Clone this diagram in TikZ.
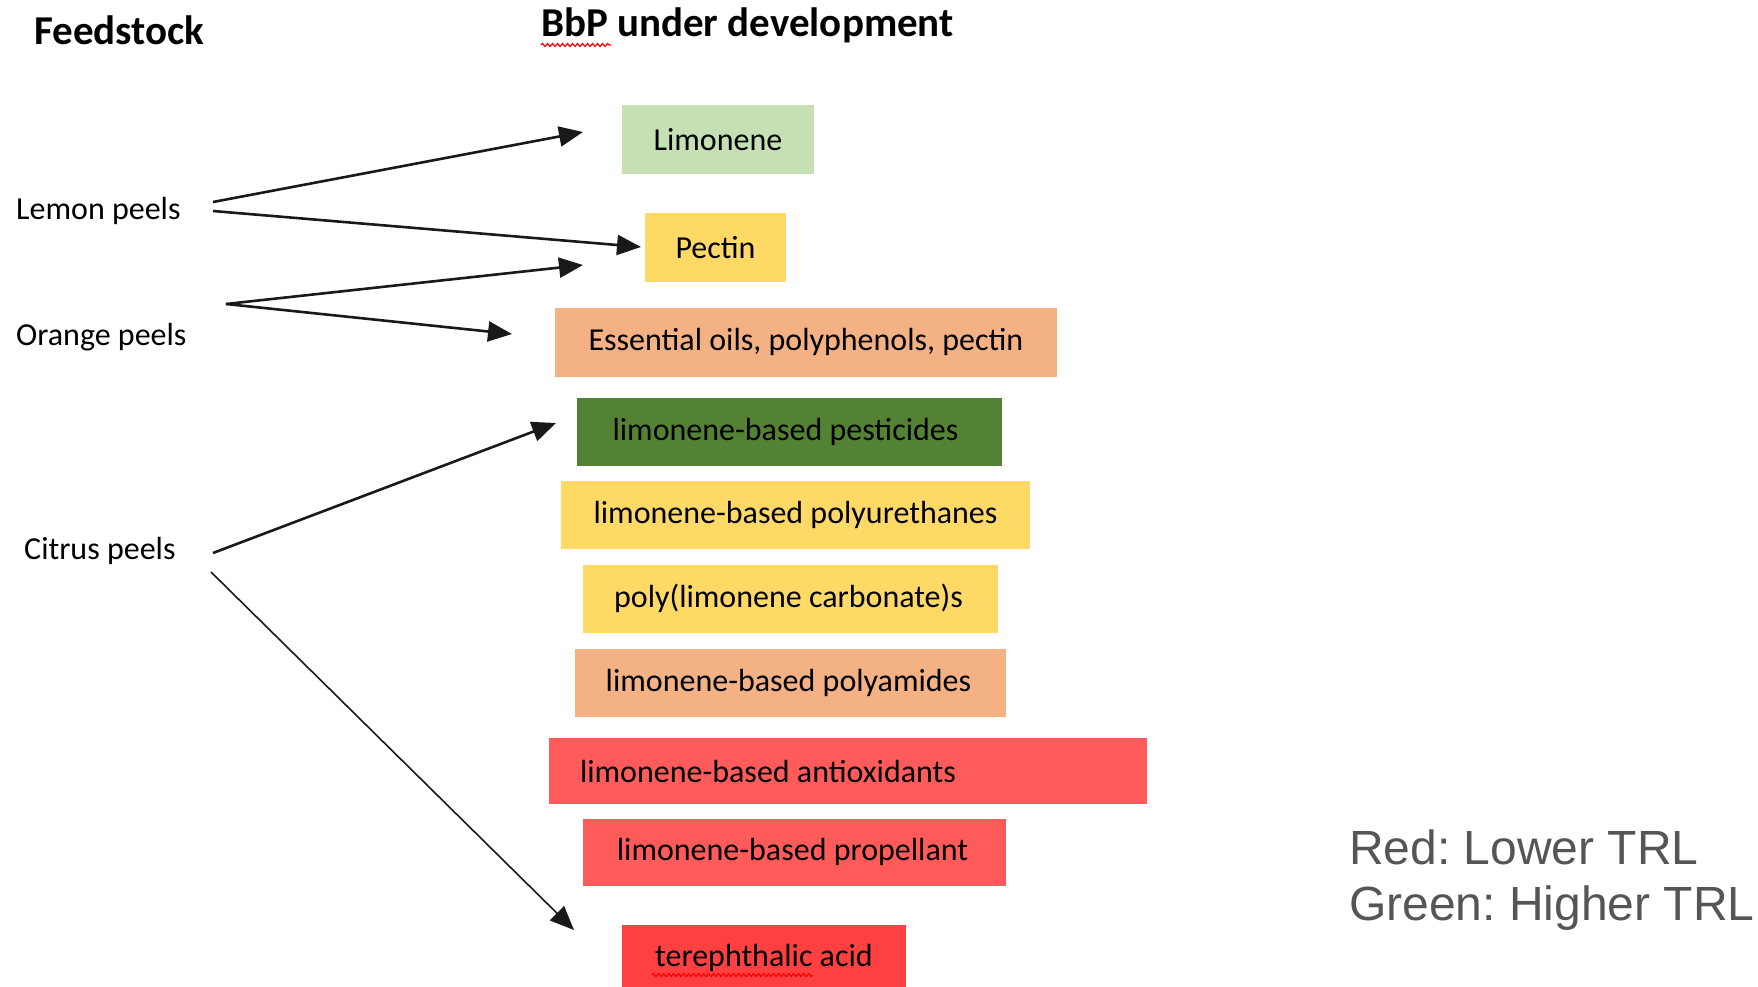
\documentclass[tikz,border=0pt]{standalone}
\usepackage{fontspec}
\setmainfont{Carlito}
\newfontfamily\arialf{Liberation Sans}
\usetikzlibrary{arrows.meta,decorations.pathmorphing}
\definecolor{cgreenl}{HTML}{C5E0B4}
\definecolor{cyel}{HTML}{FFD966}
\definecolor{corg}{HTML}{F4B183}
\definecolor{cgreen}{HTML}{548235}
\definecolor{cred}{HTML}{FF5B5B}
\definecolor{credd}{HTML}{FF4040}
\definecolor{cgray}{HTML}{555555}
\frenchspacing
\begin{document}
\begin{tikzpicture}[x=1pt,y=-1pt,
 box/.style={inner sep=0pt, minimum height=68pt, font=\fontsize{32}{38}\selectfont, text=black},
 lbl/.style={anchor=west, inner sep=0pt, font=\fontsize{32}{38}\selectfont},
 hdr/.style={anchor=west, inner sep=0pt, font=\fontsize{41}{48}\selectfont\bfseries},
 leg/.style={anchor=base west, inner sep=0pt, text=cgray, font=\fontsize{48}{56}\selectfont\arialf},
 arr/.style={-{Triangle[length=24pt,width=20pt]}, line width=2.6pt, draw=black!90},
 arrthin/.style={-{Triangle[length=24pt,width=20pt]}, line width=1.6pt, draw=black!90},
 wavy/.style={draw=red, line width=1.2pt, decorate, decoration={snake, amplitude=1.5pt, segment length=5pt}}]
\path[use as bounding box] (0,0) rectangle (1758,987);
\clip (0,0) rectangle (1758,987);

% headers
\node[hdr] (hfeed) at (34,30) {Feedstock};
\node[hdr] (hbbp) at (541,25) {BbP under development};

% feedstock labels
\node[lbl] (lemon) at (16,211) {Lemon peels};
\node[lbl] (orange) at (16,337) {Orange peels};
\node[lbl] (citrus) at (24,551) {Citrus peels};

% product boxes
\node[box, fill=cgreenl, minimum width=192pt, minimum height=69pt] (limonene) at (718,140) {Limonene};
\node[box, fill=cyel, minimum width=141pt] (pectin) at (715.5,247.5) {Pectin};
\node[box, fill=corg, minimum width=502pt, minimum height=69pt] (oils) at (806,342) {Essential oils, polyphenols, pectin};
\node[box, fill=cgreen, minimum width=425pt] (pest) at (789.5,431.5) {\hspace*{-8pt}limonene-based pesticides};
\node[box, fill=cyel, minimum width=469pt] (pu) at (795.5,514.5) {limonene-based polyurethanes};
\node[box, fill=cyel, minimum width=415pt] (plc) at (790.5,598.5) {\hspace*{-4pt}poly(limonene carbonate)s};
\node[box, fill=corg, minimum width=431pt] (pa) at (790.5,682.5) {\hspace*{-4pt}limonene-based polyamides};
\node[box, fill=cred, minimum width=598pt, minimum height=66pt] (antiox) at (848,771) {\makebox[536pt][l]{limonene-based antioxidants}};
\node[box, fill=cred, minimum width=423pt, minimum height=67pt] (prop) at (794.5,852) {\hspace*{-4pt}limonene-based propellant};
\node[box, fill=credd, minimum width=284pt, minimum height=66pt] (tpa) at (764,958) {terephthalic acid};

% spell-check marks
\draw[wavy] (541,45) -- (611,45);
\draw[wavy] (652,975) -- (813,975);

% connector end points
\coordinate (ls1) at (213,202);
\coordinate (ls2) at (213,211);
\coordinate (le1) at (583,132);
\coordinate (le2) at (641,247);
\coordinate (os) at (226,304);
\coordinate (oe1) at (583,265);
\coordinate (oe2) at (512,334);
\coordinate (cs1) at (213,553);
\coordinate (cs2) at (211,572);
\coordinate (ce1) at (556,423);
\coordinate (ce2) at (574,930);

\draw[arr] (ls1) -- (le1);
\draw[arr] (ls2) -- (le2);
\draw[arr] (os) -- (oe1);
\draw[arr] (os) -- (oe2);
\draw[arr] (cs1) -- (ce1);
\draw[arrthin] (cs2) -- (ce2);

% legend
\node[leg] (leg1) at (1349,864) {Red: Lower TRL};
\node[leg] (leg2) at (1349,920) {Green: Higher TRL};
\end{tikzpicture}
\end{document}
